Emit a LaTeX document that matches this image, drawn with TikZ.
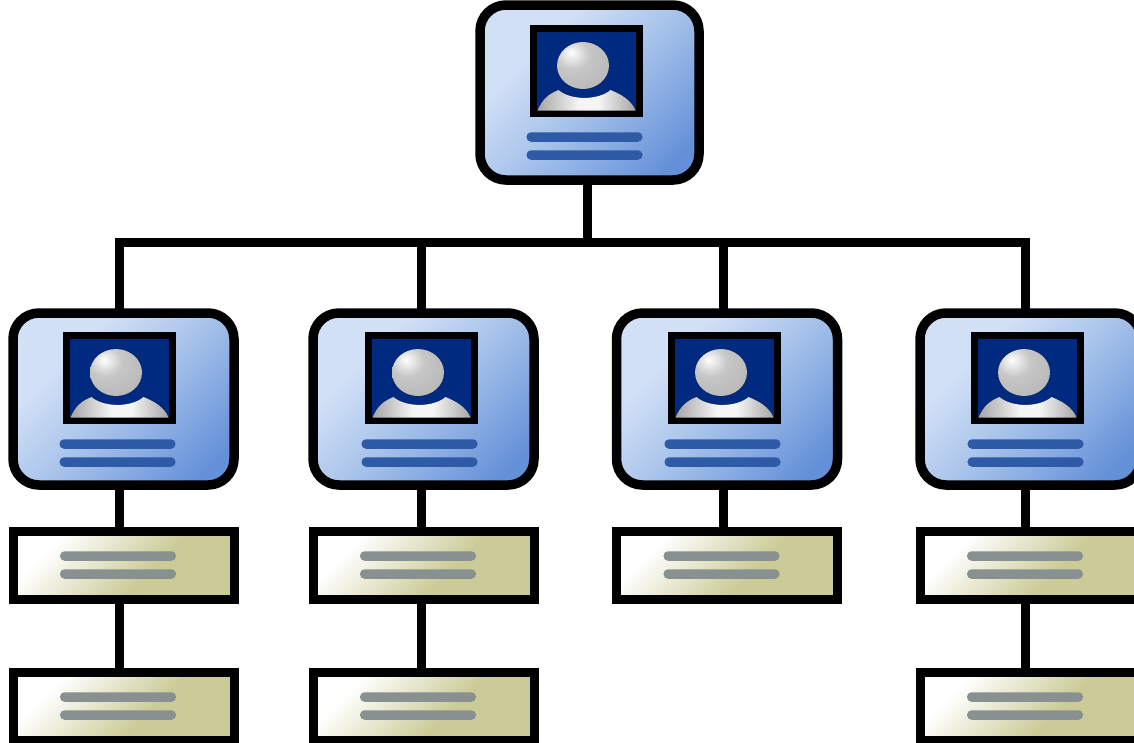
\documentclass[tikz,border=0pt]{standalone}
\usetikzlibrary{calc}
\definecolor{navy}{HTML}{002A80}
\definecolor{cardlight}{HTML}{D2E0F6}
\definecolor{cardmid}{HTML}{AAC5EB}
\definecolor{carddark}{HTML}{6490D8}
\definecolor{barblue}{HTML}{2E5AA6}
\definecolor{bargrey}{HTML}{899090}
\definecolor{khaki}{HTML}{CBCB98}
\pgfdeclareverticalshading{cardgrad}{100bp}{color(0bp)=(carddark);color(22bp)=(carddark);color(50bp)=(cardmid);color(68bp)=(cardlight);color(100bp)=(cardlight)}
\pgfdeclareverticalshading{boxgrad}{100bp}{color(0bp)=(khaki);color(42bp)=(khaki);color(72bp)=(white);color(100bp)=(white)}
\pgfdeclareradialshading{headgrad}{\pgfpoint{-12bp}{14bp}}{color(0bp)=(white);color(16bp)=(black!22);color(34bp)=(black!27);color(100bp)=(black!27)}
\pgfdeclarehorizontalshading{shouldergrad}{100bp}{color(0bp)=(black!35);color(25bp)=(black!35);color(46bp)=(black!4);color(56bp)=(black!4);color(75bp)=(black!35);color(100bp)=(black!35)}
\tikzset{
 x=1pt,y=-1pt,
 cardbox/.style={draw=black,line width=9.5pt,rounded corners=26pt,shading=cardgrad,shading angle=45,inner sep=0pt,outer sep=0pt},
 notebox/.style={draw=black,line width=9pt,shading=boxgrad,shading angle=45,inner sep=0pt,outer sep=0pt,minimum width=221pt,minimum height=68pt},
 photo/.style={draw=black,line width=7.5pt,fill=navy,inner sep=0pt,outer sep=0pt,minimum width=106pt,minimum height=85pt},
 bluebar/.style={fill=barblue,rounded corners=4.5pt,inner sep=0pt,outer sep=0pt,minimum width=116pt,minimum height=9.5pt},
 greybar/.style={fill=bargrey,rounded corners=4.5pt,inner sep=0pt,outer sep=0pt,minimum width=116pt,minimum height=9.5pt},
 link/.style={draw=black,line width=9pt,line cap=butt,line join=miter}
}
% #1 name, #2 card centre x, #3 card centre y, #4 width, #5 height, #6 photo centre x, #7 photo centre y
\newcommand{\personcard}[7]{%
 \node[cardbox,minimum width=#4pt,minimum height=#5pt] (#1) at (#2,#3) {};
 \node[photo] (#1p) at (#6,#7) {};
 \begin{scope}[shift={(#6,#7)}]
  \fill[shading=shouldergrad] (-49,39.5) .. controls (-44,28) and (-38,23) .. (-28,19) .. controls (-16,29.5) and (12,29.5) .. (24,19) .. controls (34,23) and (45,29) .. (49,39.5) -- cycle;
  \fill[shading=headgrad] (-3.5,-5.5) ellipse [x radius=26,y radius=23.5];
 \end{scope}
 \node[bluebar] (#1a) at ($(#6,#7)+(-2,66)$) {};
 \node[bluebar] (#1b) at ($(#6,#7)+(-2,84)$) {};
}
% #1 name, #2 centre x, #3 centre y
\newcommand{\notecard}[3]{%
 \node[notebox] (#1) at (#2,#3) {};
 \node[greybar] (#1a) at ($(#2,#3)+(-5.5,-9)$) {};
 \node[greybar] (#1b) at ($(#2,#3)+(-5.5,9)$) {};
}
\begin{document}
\begin{tikzpicture}
\useasboundingbox (0,0) rectangle (1134,742);
\clip (0,0) rectangle (1134,742);
% person cards
\personcard{top}{589.5}{92.5}{219}{175}{586.5}{71}
\personcard{c1}{123.5}{399}{221}{172}{119.5}{378}
\personcard{c2}{423.5}{399}{221}{172}{421.5}{378}
\personcard{c3}{727}{399}{221}{172}{724.5}{378}
\personcard{c4}{1030.5}{399}{221}{172}{1027.5}{378}
% note boxes
\notecard{b1}{123.5}{565}
\notecard{b2}{423.5}{565}
\notecard{b3}{727}{565}
\notecard{b4}{1030.5}{565}
\notecard{d1}{123.5}{706}
\notecard{d2}{423.5}{706}
\notecard{d4}{1030.5}{706}
% connectors
\coordinate (bus) at (587.5,242.5);
\coordinate (busl) at (119.5,242.5);
\coordinate (busr) at (1025.5,242.5);
\draw[link] ($(top.south)+(-2,0)$) -- (bus);
\draw[link] ($(c1.north)+(-4,0)$) |- (busl) -- (busr) |- ($(c4.north)+(-5,0)$);
\draw[link] ($(c2.north)+(-2,0)$) -- +(0,-73);
\draw[link] ($(c3.north)+(-3.5,0)$) -- +(0,-73);
\draw[link] ($(c1.south)+(-4,0)$) -- ($(b1.north)+(-4,0)$);
\draw[link] ($(c2.south)+(-2,0)$) -- ($(b2.north)+(-2,0)$);
\draw[link] ($(c3.south)+(-3.5,0)$) -- ($(b3.north)+(-3.5,0)$);
\draw[link] ($(c4.south)+(-5,0)$) -- ($(b4.north)+(-5,0)$);
\draw[link] ($(b1.south)+(-4,0)$) -- ($(d1.north)+(-4,0)$);
\draw[link] ($(b2.south)+(-2,0)$) -- ($(d2.north)+(-2,0)$);
\draw[link] ($(b4.south)+(-5,0)$) -- ($(d4.north)+(-5,0)$);
\end{tikzpicture}
\end{document}
